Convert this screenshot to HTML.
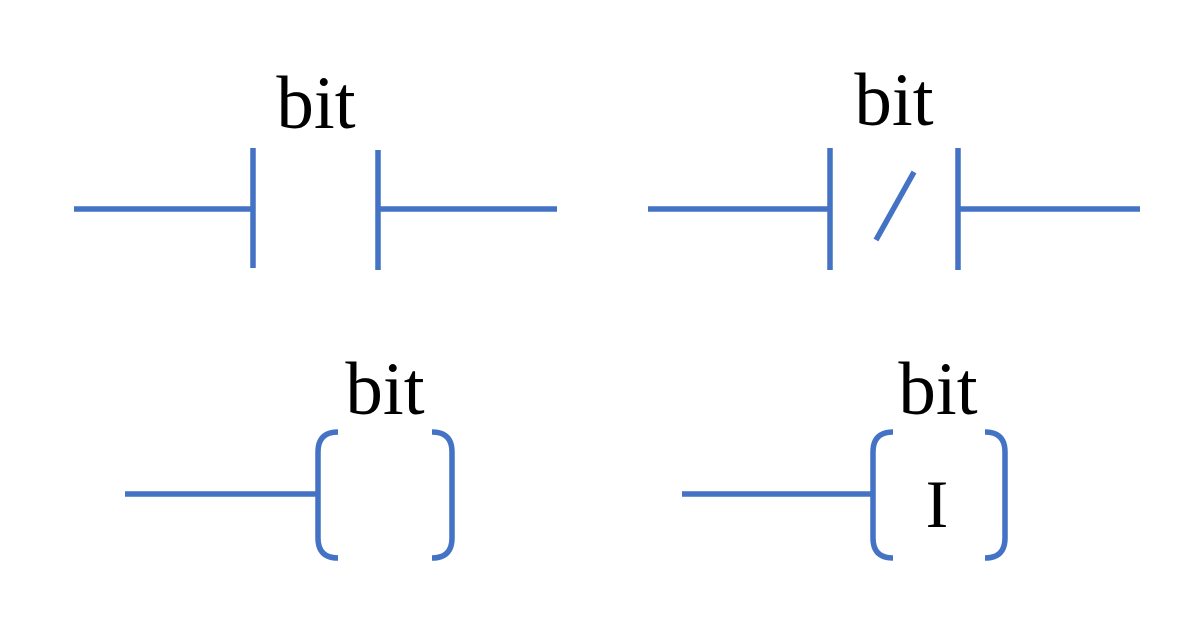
<!DOCTYPE html>
<html><head><style>
html,body{margin:0;padding:0;background:#fff;width:1200px;height:628px;overflow:hidden}
svg text{font-family:"Liberation Serif",serif;fill:#000}
</style></head><body>
<svg width="1200" height="628" viewBox="0 0 1200 628">
<g stroke="#4472C4" stroke-width="5.5" fill="none" stroke-linecap="butt">
<line x1="74" y1="209" x2="253" y2="209"/>
<line x1="253" y1="148" x2="253" y2="268"/>
<line x1="378" y1="150" x2="378" y2="270"/>
<line x1="378" y1="209" x2="557" y2="209"/>
<line x1="648" y1="209" x2="830" y2="209"/>
<line x1="830" y1="148" x2="830" y2="270"/>
<line x1="876" y1="240" x2="914" y2="172"/>
<line x1="958" y1="148" x2="958" y2="270"/>
<line x1="958" y1="209" x2="1140" y2="209"/>
<line x1="125" y1="494" x2="318" y2="494"/>
<path d="M338 432 Q318 432 318 452 L318 538 Q318 558 338 558"/>
<path d="M432 432 Q452 432 452 452 L452 538 Q452 558 432 558"/>
<line x1="682" y1="494" x2="873" y2="494"/>
<path d="M893 432 Q873 432 873 452 L873 538 Q873 558 893 558"/>
<path d="M985 432 Q1005 432 1005 452 L1005 538 Q1005 558 985 558"/>
</g>
<text x="316" y="128" font-size="75" text-anchor="middle">bit</text>
<text x="894" y="125" font-size="75" text-anchor="middle">bit</text>
<text x="385" y="414" font-size="75" text-anchor="middle">bit</text>
<text x="938" y="414" font-size="75" text-anchor="middle">bit</text>
<text x="937" y="527" font-size="68" text-anchor="middle">I</text>
</svg>
</body></html>
